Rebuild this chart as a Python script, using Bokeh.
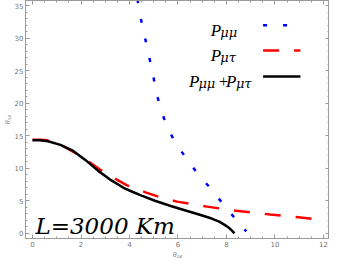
from bokeh.plotting import figure
from bokeh.models import Range1d, LinearAxis, Label, FixedTicker
from bokeh.embed import file_html
from bokeh.resources import INLINE

# P_mumu (blue dotted)
pmm_x = [4.33, 4.38, 4.52, 4.68, 4.83, 4.99, 5.13, 5.31, 5.58, 5.93, 6.35, 6.80, 7.30, 7.78, 8.25, 8.72, 8.82]
pmm_y = [36.0, 34.8, 32.0, 29.4, 26.8, 24.0, 21.3, 18.8, 16.1, 13.7, 11.5, 9.2, 7.1, 4.87, 2.75, 0.7, 0.3]

# P_mutau (red dashed)
pmt_x = [0.0, 0.3, 0.64, 1.22, 1.74, 2.32, 2.78, 3.36, 3.88, 4.66, 5.3, 5.96, 7.2, 8.4, 9.8, 10.97, 12.0]
pmt_y = [14.4, 14.4, 14.3, 13.5, 12.4, 11.0, 9.8, 8.5, 7.4, 6.3, 5.5, 4.87, 4.1, 3.45, 2.9, 2.46, 2.0]

# P_mumu + P_mutau (black solid)
sum_x = [0.0, 0.3, 0.64, 1.15, 1.68, 2.19, 2.71, 3.24, 3.75, 4.14, 4.5, 5.05, 5.7, 6.35, 6.9, 7.39, 7.7, 7.91, 8.1, 8.24, 8.33]
sum_y = [14.3, 14.3, 14.16, 13.6, 12.66, 11.25, 9.6, 8.17, 7.0, 6.35, 5.8, 5.0, 4.2, 3.46, 2.85, 2.27, 1.8, 1.33, 0.85, 0.38, 0.0]

x_ticks = [0, 2, 4, 6, 8, 10, 12]
y_ticks = [0, 5, 10, 15, 20, 25, 30, 35]
x_minor = [i * 0.5 for i in range(0, 25)]
y_minor = list(range(0, 36))

FRAME = "#9a9a9a"

p = figure(width=329, height=260, output_backend="svg", toolbar_location=None,
           x_range=Range1d(-0.29, 12.25), y_range=Range1d(-0.8, 35.8),
           min_border_left=0, min_border_right=0, min_border_top=0, min_border_bottom=0)
p.grid.visible = False
p.outline_line_color = FRAME
p.background_fill_color = "white"


def style(ax, ticks, minor, labels=True):
    ax.ticker = FixedTicker(ticks=ticks, minor_ticks=minor)
    ax.axis_line_color = FRAME
    ax.major_tick_line_color = FRAME
    ax.minor_tick_line_color = FRAME
    ax.major_tick_in = 4
    ax.major_tick_out = 0
    ax.minor_tick_in = 2
    ax.minor_tick_out = 0
    ax.major_label_text_color = "#777777"
    ax.major_label_text_font = "DejaVu Sans"
    ax.major_label_text_font_size = "7px"
    ax.major_label_standoff = 2
    if not labels:
        ax.major_label_overrides = {t: "" for t in ticks}
        ax.major_label_standoff = 0


style(p.xaxis[0], x_ticks, x_minor)
style(p.yaxis[0], y_ticks, y_minor)
p.xaxis[0].axis_label = "θ₂₄"
p.yaxis[0].axis_label = "θ₃₄"
for ax in (p.xaxis[0], p.yaxis[0]):
    ax.axis_label_text_font_size = "7px"
    ax.axis_label_text_color = "#888888"
    ax.axis_label_text_font_style = "italic"
    ax.axis_label_standoff = 1

top = LinearAxis()
style(top, x_ticks, x_minor, labels=False)
p.add_layout(top, "above")
right = LinearAxis()
style(right, y_ticks, y_minor, labels=False)
p.add_layout(right, "right")

p.line(pmm_x, pmm_y, line_color="#0000ff", line_width=2.5, line_dash="4 16")
p.line(pmt_x, pmt_y, line_color="#ff0000", line_width=2.5, line_dash="16 15")
p.line(sum_x, sum_y, line_color="black", line_width=2.5)

# legend samples
leg_x = [9.51, 11.05]
p.line(leg_x, [32.0, 32.0], line_color="#0000ff", line_width=2.5, line_dash="4 16")
p.line(leg_x, [28.1, 28.1], line_color="#ff0000", line_width=2.5, line_dash="16 15")
p.line(leg_x, [24.1, 24.1], line_color="black", line_width=2.5)


def lab(x, y, text, dx=0, dy=0, size="17px", font="Liberation Serif"):
    p.add_layout(Label(x=x, y=y, x_offset=dx, y_offset=dy, text=text,
                       text_font=font, text_font_style="italic",
                       text_font_size=size, text_color="black",
                       text_align="left", text_baseline="alphabetic"))


SUB = "13px"
SUBF = "DejaVu Serif"
lab(7.35, 31.2, "P")
lab(7.35, 31.2, "μμ", dx=9.5, dy=-2, size=SUB, font=SUBF)
lab(7.35, 27.3, "P")
lab(7.35, 27.3, "μτ", dx=9.5, dy=-2, size=SUB, font=SUBF)
lab(6.45, 23.3, "P")
lab(6.45, 23.3, "μμ", dx=9.5, dy=-2, size=SUB, font=SUBF)
lab(6.45, 23.3, "+", dx=29, dy=0, size="16px")
lab(6.45, 23.3, "P", dx=37)
lab(6.45, 23.3, "μτ", dx=47, dy=-2, size=SUB, font=SUBF)

p.add_layout(Label(x=0.12, y=1.1, text="L=3000  Km", text_font="DejaVu Serif",
                   text_font_style="italic", text_font_size="23px", text_color="black",
                   text_align="left", text_baseline="alphabetic"))

open("out.html", "w").write(file_html(p, INLINE))
